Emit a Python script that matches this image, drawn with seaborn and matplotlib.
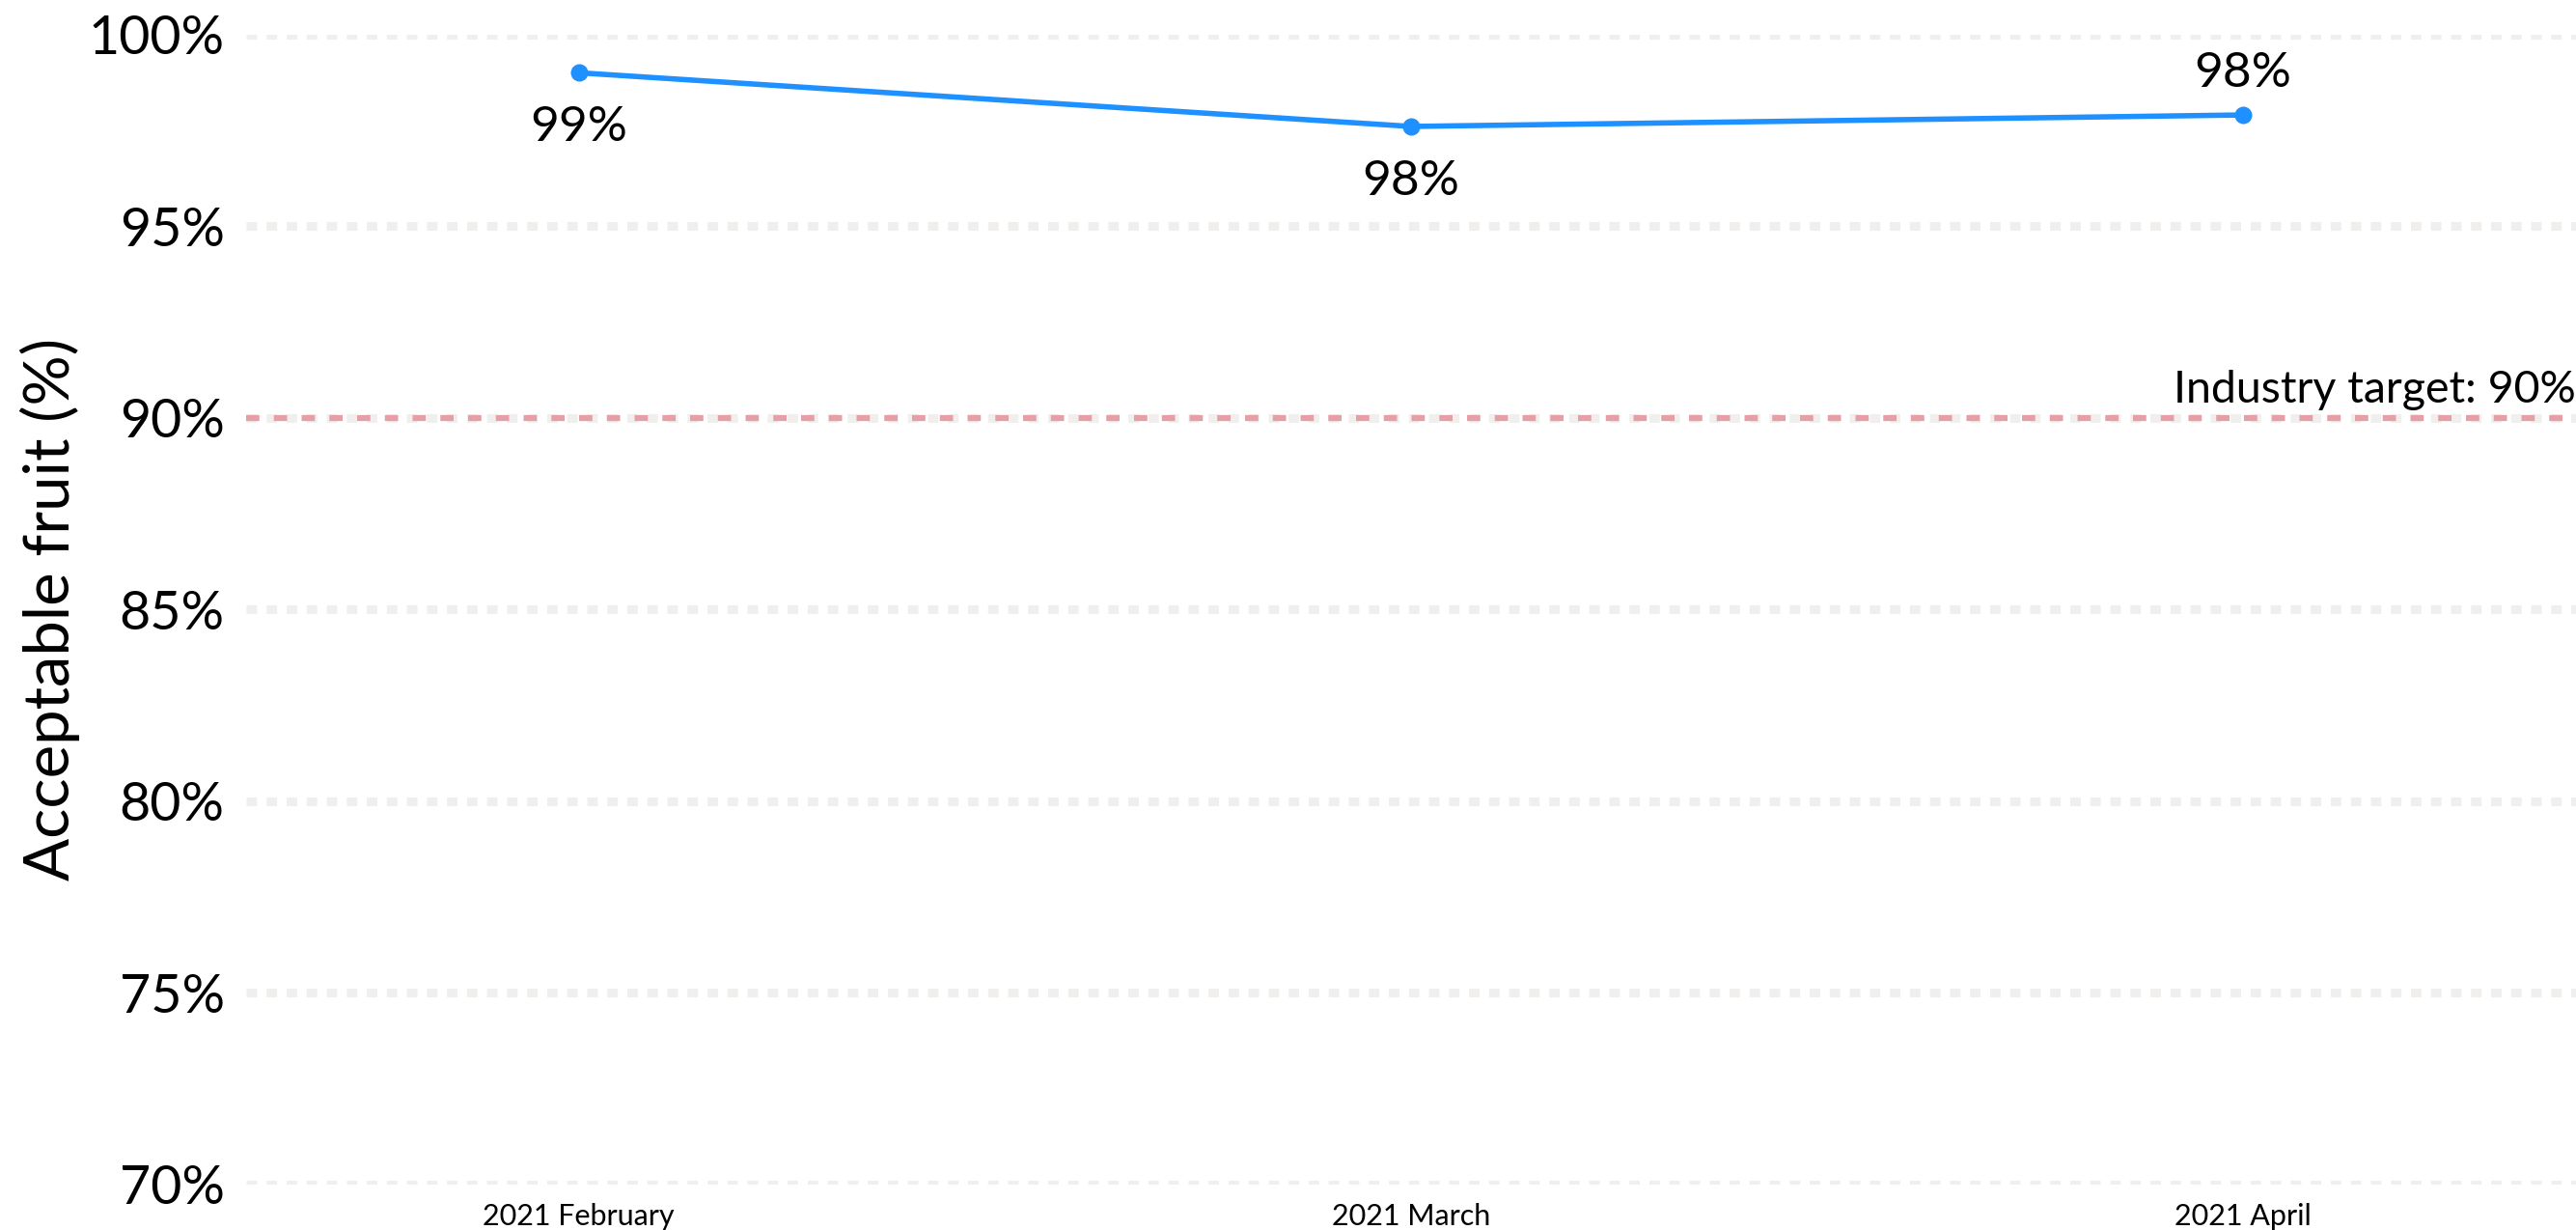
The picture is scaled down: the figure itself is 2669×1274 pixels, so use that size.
import pandas as pd
import matplotlib.pyplot as plt
import matplotlib.ticker as mticker
import seaborn as sns

sns.set_theme(style="white")
plt.rcParams['font.family'] = ['Lato', 'DejaVu Sans']
plt.rcParams['text.color'] = 'black'
plt.rcParams['axes.labelcolor'] = 'black'
plt.rcParams['xtick.color'] = 'black'
plt.rcParams['ytick.color'] = 'black'

months = ["2021 February", "2021 March", "2021 April"]
acceptable = [0.990, 0.976, 0.979]
target = 0.90
target_label = "Industry target: 90%"
y_ticks = [0.70, 0.75, 0.80, 0.85, 0.90, 0.95, 1.00]

df = pd.DataFrame({"Month": months, "Acceptable": acceptable})

fig = plt.figure(figsize=(26.69, 12.74), dpi=100)
ax = fig.add_axes([0.0955, 0.037, 0.9045, 0.935])

# dotted grid lines
for t in y_ticks:
    ax.axhline(t, color="#F0EFEE", lw=6.5, ls=(0, (1.2, 1.1)),
               dash_capstyle="butt", zorder=0)

# target line
ax.axhline(target, color="#E6A0A5", lw=4.5, ls=(0, (2.2, 2.4)),
           dash_capstyle="butt", zorder=1)
ax.text(2.4, target + 0.002, target_label, ha="right", va="bottom",
        fontsize=33.5)

sns.lineplot(data=df, x="Month", y="Acceptable", ax=ax, color="#1E90FF",
             lw=4, marker="o", markersize=13, markeredgewidth=0, zorder=3)

# value labels: below for first two, above for last
offsets = [-34, -34, 26]
for i, v in enumerate(acceptable):
    ax.annotate(f"{v:.0%}", (i, v), xytext=(0, offsets[i] * 1.2),
                textcoords="offset points", ha="center", va="center",
                fontsize=37)

ax.set_xlim(-0.4, 2.4)
ax.set_ylim(0.70, 1.00)
ax.set_yticks(y_ticks)
ax.yaxis.set_major_formatter(mticker.PercentFormatter(1.0, decimals=0))
ax.tick_params(axis="y", labelsize=40, pad=16, length=0)
ax.tick_params(axis="x", labelsize=22, pad=14, length=0)
ax.set_xlabel("")
ax.set_ylabel("Acceptable fruit (%)", fontsize=47)
ax.yaxis.set_label_coords(-0.071, 0.5)
sns.despine(ax=ax, left=True, bottom=True)
ax.grid(False)

fig.savefig("out.png", dpi=100)
